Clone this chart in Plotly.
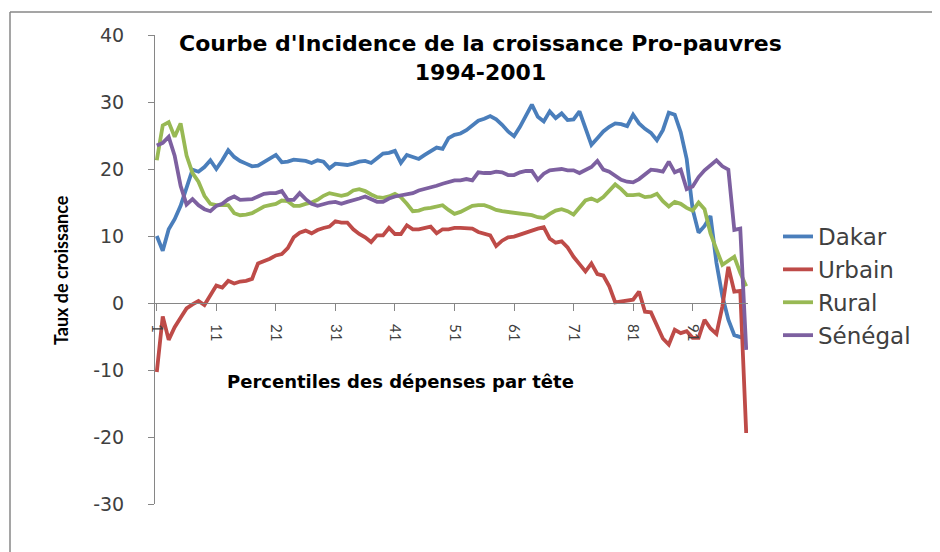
import plotly.graph_objects as go

percentiles = list(range(1, 101))
tick_vals = [1, 11, 21, 31, 41, 51, 61, 71, 81, 91]
y_ticks = [-30, -20, -10, 0, 10, 20, 30, 40]
y_tick_text = ["-30", "-20", "-10", "0", "10", "20", "30", "40"]

dakar = [
    10, 7.8, 11, 12.5, 14.5, 17, 19.9, 19.6, 20.3, 21.3,
    20, 21.3, 22.8, 21.8, 21.2, 20.8, 20.4, 20.5, 21, 21.5,
    22.1, 21, 21.1, 21.4, 21.3, 21.2, 20.9, 21.3, 21.1, 20.1,
    20.8, 20.7, 20.6, 20.8, 21.1, 21.2, 20.9, 21.6, 22.3, 22.4,
    22.7, 20.9, 22.1, 21.8, 21.5, 22.1, 22.7, 23.2, 23, 24.6,
    25.1, 25.3, 25.8, 26.5, 27.2, 27.5, 27.9, 27.4, 26.6, 25.6,
    24.9, 26.3, 27.9, 29.6, 27.8, 27.1, 28.6, 27.6, 28.3, 27.3,
    27.4, 28.6, 26.1, 23.6, 24.6, 25.6, 26.3, 26.8, 26.7, 26.4,
    28.1, 26.8, 26, 25.4, 24.3, 25.8, 28.4, 28.1, 25.5, 21.5,
    14, 10.5, 11.5, 13, 6, 1, -2.5, -4.8, -5.1, -5.3,
]

urbain = [
    -10.3, -2, -5.5, -3.6, -2.2, -0.8, -0.2, 0.3, -0.3, 1.2,
    2.6, 2.3, 3.3, 2.9, 3.2, 3.3, 3.6, 5.9, 6.2, 6.6,
    7.1, 7.3, 8.2, 9.8, 10.5, 10.8, 10.4, 10.9, 11.2, 11.4,
    12.2, 12, 12, 11, 10.3, 9.8, 9.1, 10.1, 10.1, 11.2,
    10.3, 10.3, 11.6, 11, 11, 11.2, 11.4, 10.4, 11, 11,
    11.2, 11.2, 11.1, 11.1, 10.6, 10.3, 10.1, 8.5, 9.3, 9.8,
    9.9, 10.2, 10.5, 10.9, 11.1, 11.3, 9.6, 9, 9.2, 8.3,
    6.9, 5.8, 4.7, 5.9, 4.3, 4.1, 2.5, 0.1, 0.2, 0.3,
    0.5, 1.7, -1.3, -1.4, -3.5, -5.3, -6.2, -4, -4.5, -4.2,
    -5.2, -5.2, -2.5, -3.8, -4.6, -0.5, 5.4, 1.7, 1.8, -19.4,
]

rural = [
    21.3, 26.5, 27, 24.8, 26.8, 22, 19.4, 18.1, 16, 14.8,
    14.6, 14.6, 14.6, 13.4, 13.1, 13.2, 13.4, 13.9, 14.4, 14.6,
    14.8, 15.3, 15.2, 14.5, 14.5, 14.8, 15, 15.4, 16, 16.4,
    16.2, 16, 16.2, 16.8, 17, 16.7, 16.2, 15.8, 15.7, 15.9,
    16.3, 15.8, 14.8, 13.7, 13.8, 14.1, 14.2, 14.4, 14.6, 13.9,
    13.3, 13.6, 14, 14.5, 14.6, 14.6, 14.3, 13.9, 13.7, 13.6,
    13.5, 13.4, 13.3, 13.1, 12.8, 12.7, 13.3, 13.8, 14, 13.7,
    13.2, 14.3, 15.3, 15.6, 15.2, 15.8, 16.8, 17.7, 17, 16.1,
    16.1, 16.2, 15.8, 15.9, 16.3, 15.2, 14.4, 15.1, 14.8, 14.2,
    13.8, 15, 14, 10.4, 8, 5.7, 6.3, 6.9, 4.5, 2.5,
]

senegal = [
    23.5, 23.9, 24.8, 22, 17.5, 14.7, 15.5, 14.6, 14, 13.7,
    14.5, 14.8, 15.5, 15.9, 15.4, 15.4, 15.5, 15.9, 16.3, 16.4,
    16.4, 16.7, 15.4, 15.4, 16.4, 15.5, 14.8, 14.5, 14.8, 15,
    15.1, 14.8, 15.1, 15.3, 15.6, 15.9, 15.5, 15.1, 15.1, 15.6,
    15.9, 16.1, 16.3, 16.4, 16.8, 17, 17.2, 17.5, 17.8, 18.1,
    18.3, 18.3, 18.5, 18.3, 19.5, 19.4, 19.4, 19.6, 19.5, 19.1,
    19.1, 19.5, 19.7, 19.7, 18.4, 19.3, 19.8, 19.9, 20, 19.8,
    19.8, 19.4, 19.8, 20.3, 21.2, 19.9, 19.6, 19, 18.4, 18.1,
    18, 18.5, 19.2, 19.9, 19.8, 19.6, 21.1, 19.5, 19.9, 17,
    17.4, 18.8, 19.8, 20.6, 21.3, 20.4, 19.9, 10.9, 11.1, -7,
]

series = [
    ("Dakar", dakar, "#4A7EBB"),
    ("Urbain", urbain, "#BE4B48"),
    ("Rural", rural, "#98B954"),
    ("Sénégal", senegal, "#7D60A0"),
]

SANS = "'DejaVu Sans', Verdana, sans-serif"
NARROW = "Lato, 'Open Sans', sans-serif"

fig = go.Figure()
for name, vals, color in series:
    fig.add_trace(go.Scatter(
        x=percentiles, y=vals, name=name, mode="lines",
        line=dict(color=color, width=3.8),
        legendgroup=name,
    ))

# page offset of the figure inside the browser body
OFF = 8
W, H = 940, 552
# plot area in page pixels
PX0, PX1, PY0, PY1 = 155, 748, 35, 504
L = PX0 - OFF
R = W - (PX1 - OFF)
T = PY0 - OFF
B = H - (PY1 - OFF)
pw = PX1 - PX0
ph = PY1 - PY0


def px_x(x):
    return (x - PX0) / pw


def px_y(y):
    return (PY1 - y) / ph


fig.update_layout(
    width=W, height=H,
    margin=dict(l=L, r=R, t=T, b=B, pad=0),
    paper_bgcolor="white", plot_bgcolor="white",
    font=dict(family=SANS, color="#404040"),
    showlegend=True,
    legend=dict(
        x=px_x(778), y=px_y(215), xanchor="left", yanchor="top",
        font=dict(size=23, color="#404040", family=SANS),
        bgcolor="rgba(0,0,0,0)", borderwidth=0,
        traceorder="grouped", tracegroupgap=0,
        itemwidth=30,
    ),
    xaxis=dict(
        range=[0.7, 100.3],
        tickmode="array", tickvals=tick_vals, ticktext=[str(v) for v in tick_vals],
        tickangle=90,
        ticks="outside", ticklen=7, tickcolor="#868686",
        showline=True, linecolor="#868686", linewidth=1,
        showgrid=False, zeroline=False,
        anchor="free", position=30 / 70,
        tickfont=dict(size=15, color="#404040", family=NARROW),
        ticklabelstandoff=10,
    ),
    yaxis=dict(
        range=[-30, 40],
        tickmode="array", tickvals=y_ticks, ticktext=y_tick_text,
        ticks="outside", ticklen=6, tickcolor="#868686",
        showline=True, linecolor="#868686", linewidth=1,
        showgrid=False, zeroline=False,
        tickfont=dict(size=19, color="#404040", family=SANS),
        ticklabelstandoff=20,
    ),
    annotations=[
        dict(text="<b>Courbe d'Incidence de la croissance Pro-pauvres<br>1994-2001</b>",
             x=px_x(480), y=px_y(58), xref="paper", yref="paper",
             xanchor="center", yanchor="middle", showarrow=False,
             font=dict(size=22, color="#000000", family=SANS)),
        dict(text="<b>Percentiles des dépenses par tête</b>",
             x=px_x(400), y=px_y(381), xref="paper", yref="paper",
             xanchor="center", yanchor="middle", showarrow=False,
             font=dict(size=18, color="#000000", family=SANS)),
        dict(text="<b>Taux de croissance</b>", textangle=-90,
             x=px_x(61), y=px_y(270), xref="paper", yref="paper",
             xanchor="center", yanchor="middle", showarrow=False,
             font=dict(size=18, color="#000000", family=NARROW)),
    ],
    shapes=[
        dict(type="line", xref="paper", yref="paper",
             x0=px_x(10), x1=px_x(10), y0=px_y(570), y1=px_y(12),
             line=dict(color="#878787", width=1.5)),
        dict(type="line", xref="paper", yref="paper",
             x0=px_x(10), x1=px_x(960), y0=px_y(12), y1=px_y(12),
             line=dict(color="#878787", width=1.5)),
    ],
)

fig.write_html("out.html")
